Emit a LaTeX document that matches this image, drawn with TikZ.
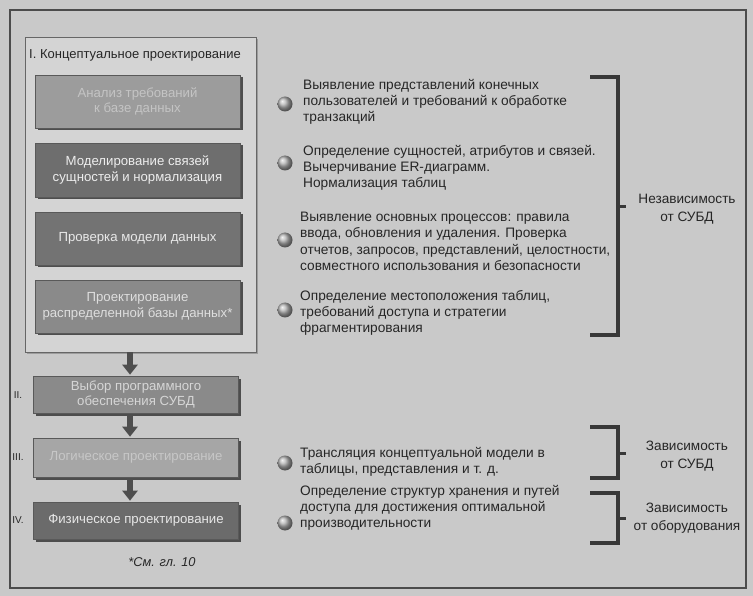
\documentclass[tikz,border=0pt]{standalone}
\usepackage{fontspec}
\setmainfont{Liberation Sans}
\usetikzlibrary{arrows.meta,shadows}
\definecolor{bg}{HTML}{C9C9C9}
\definecolor{framefill}{HTML}{D4D4D4}
\definecolor{ink}{HTML}{262626}
\definecolor{brk}{HTML}{383838}
\definecolor{arrc}{HTML}{4E4E4E}
\begin{document}
\begin{tikzpicture}[x=1pt,y=-1pt,
  stepbox/.style={draw=black!65,line width=0.6pt,minimum width=205pt,
    align=center,inner sep=2pt,font=\fontsize{13.2}{15.5}\selectfont,
    drop shadow={shadow xshift=2.5pt,shadow yshift=-2.5pt,fill=black!75,opacity=0.9}},
  item/.style={anchor=west,inner sep=0pt,align=left,text=ink,
    font=\fontsize{13.7}{16.3}\selectfont},
  lab/.style={align=center,inner sep=0pt,text=ink,
    font=\fontsize{13.6}{18.5}\selectfont},
  bul/.style={circle,minimum size=15pt,inner sep=0pt,ball color=black!30,
    draw=none},
  num/.style={inner sep=0pt,text=ink,font=\fontsize{10}{12}\selectfont},
  arr/.style={line width=5.5pt,draw=arrc,-{Triangle[width=15pt,length=10pt]}},
  brace/.style={line width=4pt,draw=brk},
  tick/.style={line width=3pt,draw=brk}]
\useasboundingbox (0,0) rectangle (753,596);
\fill[bg] (0,0) rectangle (753,596);
\draw[line width=1.5pt,black!70] (10,10) rectangle (746,588);

% conceptual frame
\node[draw=black!60,line width=0.8pt,fill=framefill,minimum width=231pt,minimum height=315pt,inner sep=0pt,
  drop shadow={shadow xshift=2pt,shadow yshift=-2pt,fill=black!55}] (frame) at (140.5,194.5) {};
\node[anchor=west,inner sep=0pt,text=ink,font=\fontsize{13}{15}\selectfont] (title) at (29,55) {I. Концептуальное проектирование};

\node[stepbox,fill=black!39,text=black!23,minimum height=53pt] (b1) at (137.5,101.5) {Анализ требований\\к базе данных};
\node[stepbox,fill=black!57,text=black!7,minimum height=54pt] (b2) at (137.5,170) {Моделирование связей\\сущностей и нормализация};
\node[stepbox,fill=black!55,text=black!9,minimum height=53pt] (b3) at (137.5,238.5) {Проверка модели данных};
\node[stepbox,fill=black!46,text=black!13,minimum height=53pt] (b4) at (137.5,306.5) {Проектирование\\распределенной базы данных*};

\node[stepbox,fill=black!46,text=black!16,minimum height=37pt] (b5) at (136,394.5) {Выбор программного\\обеспечения СУБД};
\node[stepbox,fill=black!35,text=black!22,minimum height=39pt] (b6) at (136,457.5) {Логическое проектирование};
\node[stepbox,fill=black!58,text=black!9,minimum height=37pt] (b7) at (136,520.5) {Физическое проектирование};

\node[num] (n2) at (18,395) {II.};
\node[num] (n3) at (18,457) {III.};
\node[num] (n4) at (18,520) {IV.};

\coordinate (ax) at (130,0);
\draw[arr] (frame.south -| ax) -- ([yshift=1pt]b5.north -| ax);
\draw[arr] ([yshift=-2pt]b5.south -| ax) -- ([yshift=1pt]b6.north -| ax);
\draw[arr] ([yshift=-2pt]b6.south -| ax) -- ([yshift=1pt]b7.north -| ax);

\node[inner sep=0pt,text=ink,font=\itshape\fontsize{12.8}{14}\selectfont] (foot) at (162,562) {*См. гл. 10};

% bullets and items
\node[bul] (c1) at (285,104) {};
\node[bul] (c2) at (285,163) {};
\node[bul] (c3) at (285,240) {};
\node[bul] (c4) at (285,310) {};
\node[bul] (c5) at (285,463) {};
\node[bul] (c6) at (285,523) {};

\node[item] (t1) at (303,102) {Выявление представлений конечных\\пользователей и требований к обработке\\транзакций};
\node[item] (t2) at (303,168) {Определение сущностей, атрибутов и связей.\\Вычерчивание ER-диаграмм.\\Нормализация таблиц};
\node[item] (t3) at (300,241.5) {Выявление основных процессов: правила\\ввода, обновления и удаления. Проверка\\отчетов, запросов, представлений, целостности,\\совместного использования и безопасности};
\node[item] (t4) at (300,313) {Определение местоположения таблиц,\\требований доступа и стратегии\\фрагментирования};
\node[item] (t5) at (300,461.5) {Трансляция концептуальной модели в\\таблицы, представления и т. д.};
\node[item] (t6) at (300,508) {Определение структур хранения и путей\\доступа для достижения оптимальной\\производительности};

% brackets
\draw[brace] (590,77) -- (618,77) -- (618,335) -- (590,335);
\draw[tick] (618,207) -- (626,207);
\draw[brace] (590,427) -- (618,427) -- (618,478) -- (590,478);
\draw[tick] (618,453) -- (626,453);
\draw[brace] (590,493) -- (618,493) -- (618,543) -- (590,543);
\draw[tick] (618,518) -- (626,518);

\node[lab] (l1) at (687,209) {Независимость\\от СУБД};
\node[lab] (l2) at (687,456) {Зависимость\\от СУБД};
\node[lab] (l3) at (687,518) {Зависимость\\от оборудования};
\end{tikzpicture}
\end{document}
